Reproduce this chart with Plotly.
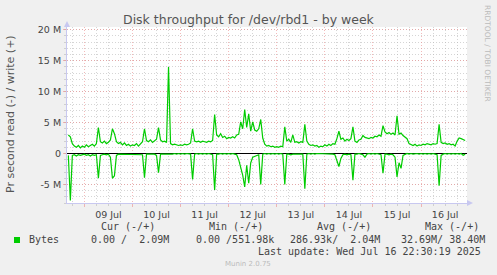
import plotly.graph_objects as go
import pandas as pd

# Hourly samples, 2025-07-08 16:00 .. 2025-07-16 22:00 (values in MB/s)
start_time = "2025-07-08 16:00"
n_points = 199

write_mb = [
    3.0, 2.7, 1.6, 1.2, 1.0, 1.3, 0.9, 1.2, 1.0, 1.4,
    1.1, 1.3, 1.5, 1.2, 1.6, 4.2, 1.9, 1.7, 2.0, 1.6,
    1.8, 2.2, 4.0, 3.2, 1.9, 1.6, 1.8, 1.4, 1.7, 1.3,
    1.5, 1.2, 1.4, 1.3, 1.6, 1.2, 1.5, 1.9, 4.0, 2.1,
    1.9, 2.2, 1.8, 2.1, 2.3, 4.2, 2.2, 1.9, 2.0, 1.8,
    14.0, 1.6, 1.4, 1.5, 1.4, 1.3, 1.4, 1.3, 1.5, 1.4,
    1.5, 1.7, 4.0, 2.0, 1.9, 2.0, 1.8, 2.0, 1.9, 1.8,
    2.0, 1.9, 2.1, 6.3, 3.0, 2.7, 3.2, 2.6, 2.8, 2.4,
    2.6, 2.5, 2.7, 2.5, 3.0, 3.1, 5.1, 4.0, 7.1, 4.2,
    6.4, 3.6, 5.1, 3.8, 3.6, 4.0, 5.5, 2.5, 1.5, 1.2,
    1.3, 1.1, 1.2, 1.0, 1.1, 1.0, 1.2, 1.1, 4.3, 2.0,
    2.3, 1.8, 3.0, 1.8, 1.9, 1.7, 1.9, 1.8, 4.7, 2.0,
    1.5, 1.3, 1.4, 1.2, 1.3, 1.0, 1.2, 1.1, 1.4, 1.2,
    1.5, 1.3, 1.6, 1.5, 2.4, 3.6, 2.3, 2.5, 2.0, 2.3,
    2.1, 2.4, 4.3, 2.0, 1.8, 2.2, 2.3, 2.9, 2.6, 2.5,
    2.4, 2.6, 2.5, 2.8, 2.7, 3.0, 2.8, 4.5, 3.5, 3.2,
    3.4, 3.1, 3.3, 3.0, 6.1, 3.1, 3.3, 2.9, 2.6, 2.4,
    1.6, 1.4, 1.3, 1.5, 1.2, 1.4, 1.3, 1.5, 1.4, 1.6,
    1.5, 1.4, 1.6, 1.5, 1.6, 4.7, 1.8, 1.6, 1.7, 1.5,
    1.6, 1.4, 1.5, 1.2, 2.0, 2.5, 2.4, 2.3, 2.1,
]

read_mb = [
    0.3, 7.6, 0.3, 0.2, 0.4, 0.2, 0.3, 0.2, 0.1, 0.3,
    0.2, 0.4, 0.2, 0.3, 0.2, 4.0, 0.3, 0.2, 0.1, 0.2,
    0.1, 0.6, 4.0, 3.6, 0.3, 0.1, 0.1, 0.2, 0.1, 0.1,
    0.2, 0.1, 0.1, 0.2, 0.1, 0.1, 0.1, 0.2, 3.9, 0.1,
    0.1, 0.1, 0.2, 0.1, 0.3, 3.1, 0.1, 0.1, 0.1, 0.1,
    0.2, 0.1, 0.1, 0.0, 0.1, 0.0, 0.1, 0.0, 0.1, 0.0,
    0.1, 0.1, 4.2, 0.1, 0.0, 0.1, 0.0, 0.1, 0.0, 0.1,
    0.0, 0.1, 0.2, 5.9, 0.1, 0.1, 0.0, 0.1, 0.0, 0.1,
    0.0, 0.1, 0.0, 0.1, 0.2, 1.0, 2.2, 3.5, 5.4, 1.9,
    4.8, 1.5, 0.6, 0.5, 0.3, 0.2, 5.0, 0.1, 0.0, 0.1,
    0.0, 0.1, 0.0, 0.1, 0.0, 0.1, 0.0, 0.1, 5.0, 0.1,
    0.1, 0.2, 0.1, 0.1, 0.0, 0.1, 0.0, 0.1, 5.7, 0.1,
    0.0, 0.1, 0.0, 0.1, 0.0, 0.0, 0.1, 0.0, 0.1, 0.0,
    0.1, 0.0, 0.1, 0.2, 1.2, 2.1, 0.8, 0.2, 0.1, 0.2,
    0.1, 0.2, 4.3, 0.1, 0.1, 0.0, 0.1, 0.2, 0.6, 0.1,
    0.0, 0.1, 0.0, 0.1, 0.0, 0.1, 0.2, 3.2, 0.1, 0.1,
    0.2, 0.1, 0.2, 0.6, 3.8, 1.5, 2.4, 0.3, 0.1, 0.0,
    0.1, 0.0, 0.1, 0.0, 0.0, 0.1, 0.0, 0.1, 0.0, 0.1,
    0.0, 0.1, 0.0, 0.1, 0.2, 5.2, 0.3, 0.1, 0.0, 0.1,
    0.0, 0.1, 0.0, 0.1, 0.0, 0.1, 0.0, 0.3, 0.1,
]

y_tickvals = [-5, 0, 5, 10, 15, 20]
y_ticktext = ["-5 M", "0", "5 M", "10 M", "15 M", "20 M"]

legend_headers = ["Cur (-/+)", "Min (-/+)", "Avg (-/+)", "Max (-/+)"]
legend_values = ["0.00 /  2.09M", "0.00 /551.98k", "286.93k/  2.04M", "32.69M/ 38.40M"]
series_name = "Bytes"
title_text = "Disk throughput for /dev/rbd1 - by week"
ylabel_text = "Pr second read (-) / write (+)"
last_update = "Last update: Wed Jul 16 22:30:19 2025"
munin_version = "Munin 2.0.75"
side_text = "RRDTOOL / TOBI OETIKER"

times = pd.date_range(start_time, periods=n_points, freq="h")

W, H = 497, 275
L, R, T, B = 67, 30, 27, 72
PW, PH = W - L - R, H - T - B


def px(x):
    return (x - L) / PW


def py(y):
    return (H - B - y) / PH


GREEN = "#00CC00"
TXT = "#444444"
MONO = "DejaVu Sans Mono"
SANS = "DejaVu Sans"

fig = go.Figure()
fig.add_trace(go.Scatter(x=times, y=[-v for v in read_mb], mode="lines",
                         line=dict(color=GREEN, width=1.2), showlegend=False,
                         hoverinfo="skip"))
fig.add_trace(go.Scatter(x=times, y=write_mb, mode="lines",
                         line=dict(color=GREEN, width=1.2), showlegend=False,
                         hoverinfo="skip"))

major_grid = "rgba(235,140,140,0.6)"
minor_grid = "rgba(185,185,185,0.6)"
axis_col = "#C8C8F0"

fig.update_xaxes(
    type="date",
    range=["2025-07-08 15:20", "2025-07-16 22:55"],
    tick0="2025-07-09", dtick=86400000,
    ticklabelmode="period", tickformat="%d %b",
    showgrid=True, gridcolor=major_grid, griddash="1px,2px", gridwidth=1,
    ticks="outside", ticklen=3, tickcolor=major_grid,
    minor=dict(tick0="2025-07-09", dtick=21600000, showgrid=True,
               gridcolor=minor_grid, griddash="1px,2px", gridwidth=1,
               ticks="outside", ticklen=2, tickcolor=minor_grid),
    showline=True, linecolor=axis_col, linewidth=1,
    tickfont=dict(family=SANS, size=9.5, color=TXT),
    zeroline=False, fixedrange=True,
)
fig.update_yaxes(
    range=[-8.0, 20.45],
    tickmode="array", tickvals=y_tickvals, ticktext=y_ticktext,
    showgrid=True, gridcolor=major_grid, griddash="1px,2px", gridwidth=1,
    ticks="outside", ticklen=3, tickcolor=major_grid,
    minor=dict(tick0=0, dtick=1, showgrid=True, gridcolor=minor_grid,
               griddash="1px,2px", gridwidth=1, ticks="outside", ticklen=2,
               tickcolor=minor_grid),
    showline=True, linecolor=axis_col, linewidth=1,
    zeroline=True, zerolinecolor="#000000", zerolinewidth=1,
    tickfont=dict(family=SANS, size=9.5, color=TXT),
    fixedrange=True,
)

ann = []
ann.append(dict(text=title_text, x=px(248.5), y=py(19), xref="paper", yref="paper",
                showarrow=False, xanchor="center", yanchor="middle",
                font=dict(family=SANS, size=12.5, color="#555555")))
ann.append(dict(text=ylabel_text, x=px(11), y=py(114), xref="paper", yref="paper",
                showarrow=False, xanchor="center", yanchor="middle", textangle=-90,
                font=dict(family=SANS, size=11, color="#555555")))
ann.append(dict(text=side_text, x=px(488), y=py(53), xref="paper", yref="paper",
                showarrow=False, xanchor="center", yanchor="middle", textangle=90,
                font=dict(family=SANS, size=7.5, color="#BBBBBB")))

header_x = [98.7, 206.7, 315.0, 422.7]
value_x = [89.0, 194.3, 287.7, 399.0]
for hx, htxt in zip(header_x, legend_headers):
    ann.append(dict(text=htxt.replace(" ", "&nbsp;"), x=px(hx), y=py(226.7), xref="paper",
                    yref="paper", showarrow=False, xanchor="left", yanchor="middle",
                    font=dict(family=MONO, size=10, color=TXT)))
for vx, vtxt in zip(value_x, legend_values):
    ann.append(dict(text=vtxt.replace(" ", "&nbsp;"), x=px(vx), y=py(239.3), xref="paper",
                    yref="paper", showarrow=False, xanchor="left", yanchor="middle",
                    font=dict(family=MONO, size=10, color=TXT)))
ann.append(dict(text=series_name, x=px(26.7), y=py(239.3), xref="paper", yref="paper",
                showarrow=False, xanchor="left", yanchor="middle",
                font=dict(family=MONO, size=10, color=TXT)))
ann.append(dict(text=last_update.replace(" ", "&nbsp;"), x=px(482.5), y=py(251.7), xref="paper",
                yref="paper", showarrow=False, xanchor="right", yanchor="middle",
                font=dict(family=MONO, size=10, color=TXT)))
ann.append(dict(text=munin_version, x=px(247.7), y=py(264), xref="paper", yref="paper",
                showarrow=False, xanchor="center", yanchor="middle",
                font=dict(family=SANS, size=7, color="#BBBBBB")))

shapes = []
# legend colour box
shapes.append(dict(type="rect", xref="paper", yref="paper",
                   x0=px(14), x1=px(20), y0=py(243), y1=py(237),
                   fillcolor=GREEN, line=dict(width=0)))


def tri(points):
    p = "M " + " L ".join(f"{px(a)},{py(b)}" for a, b in points) + " Z"
    return dict(type="path", xref="paper", yref="paper", path=p,
                fillcolor=axis_col, line=dict(width=0))


shapes.append(tri([(64, 27), (70, 27), (67, 21)]))
shapes.append(tri([(467, 200), (467, 206), (473, 203)]))

fig.update_layout(
    width=W, height=H,
    margin=dict(l=L, r=R, t=T, b=B, pad=0),
    paper_bgcolor="#F0F0F0", plot_bgcolor="#FFFFFF",
    showlegend=False, annotations=ann, shapes=shapes,
)

fig.write_html("out.html", config={"displayModeBar": False})
